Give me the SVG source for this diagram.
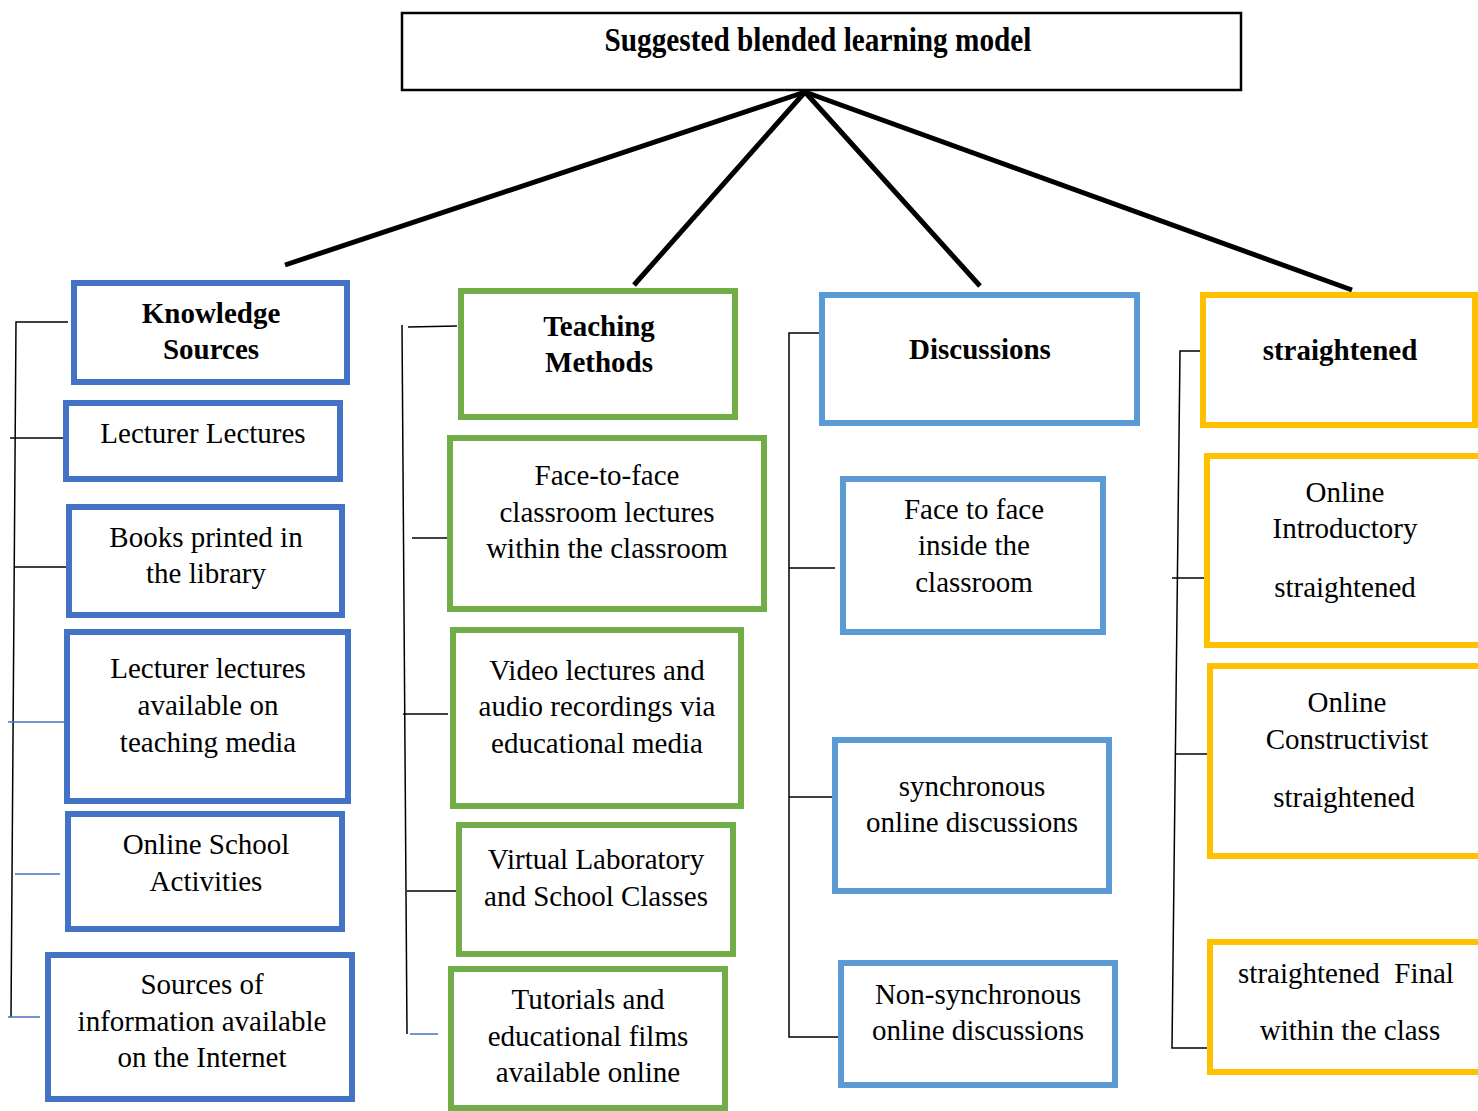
<svg xmlns="http://www.w3.org/2000/svg" width="1478" height="1111" viewBox="0 0 1478 1111">
<style>
text{font-family:"Liberation Serif","Times New Roman",serif;font-size:29px;fill:#000;text-anchor:middle}
.b{font-weight:bold}
.box{fill:#fff;stroke-width:6}
.k{stroke:#4472C4}
.g{stroke:#70AD47}
.d{stroke:#5B9BD5}
.y{stroke:#FFC000}
.main{stroke:#000;stroke-width:5;fill:none}
.br{stroke:#000;stroke-width:1.5;fill:none}
.bl{stroke:#4472C4;stroke-width:1.5;fill:none}
</style>
<rect width="1478" height="1111" fill="#fff"/>
<g id="connectors">
<line class="main" x1="805" y1="92" x2="285" y2="265"/>
<line class="main" x1="805" y1="92" x2="634" y2="285"/>
<line class="main" x1="805" y1="92" x2="980" y2="286"/>
<line class="main" x1="805" y1="92" x2="1352" y2="290"/>
<polyline class="br" points="68,322 16,322 11,1017"/>
<line class="br" x1="10" y1="438" x2="66" y2="438"/>
<line class="br" x1="14" y1="567" x2="66" y2="567"/>
<line class="bl" x1="8" y1="722" x2="64" y2="722"/>
<line class="bl" x1="15" y1="874" x2="60" y2="874"/>
<line class="bl" x1="8" y1="1017" x2="40" y2="1017"/>
<polyline class="br" points="457,326 408,327"/>
<line class="br" x1="402" y1="325" x2="407" y2="1034"/>
<line class="br" x1="412" y1="538" x2="447" y2="538"/>
<line class="br" x1="403" y1="714" x2="448" y2="714"/>
<line class="br" x1="407" y1="891" x2="458" y2="891"/>
<line class="bl" x1="410" y1="1034" x2="438" y2="1034"/>
<line class="br" x1="474" y1="328" x2="474" y2="333"/>
<polyline class="br" points="822,333 789,333 789,1037 840,1037"/>
<line class="br" x1="789" y1="568" x2="835" y2="568"/>
<line class="br" x1="789" y1="797" x2="835" y2="797"/>
<polyline class="br" points="1206,351 1180,351 1172,1048 1207,1048"/>
<line class="br" x1="1172" y1="578" x2="1210" y2="578"/>
<line class="br" x1="1175" y1="754" x2="1207" y2="754"/>
</g>
<g id="title">
<rect x="402" y="13" width="839" height="77" fill="#fff" stroke="#000" stroke-width="2.5"/>
<text class="b" x="818" y="51" textLength="427" lengthAdjust="spacingAndGlyphs" style="font-size:33px">Suggested blended learning model</text>
</g>
<g id="knowledge-sources">
<rect class="box k" x="74" y="283" width="273" height="99"/>
<text class="b" x="211" y="323">Knowledge</text>
<text class="b" x="211" y="359">Sources</text>
</g>
<g id="lecturer-lectures">
<rect class="box k" x="66" y="403" width="274" height="76"/>
<text x="203" y="443">Lecturer Lectures</text>
</g>
<g id="books-printed">
<rect class="box k" x="69" y="507" width="273" height="108"/>
<text x="206" y="547">Books printed in</text>
<text x="206" y="583">the library</text>
</g>
<g id="lecturer-lectures-media">
<rect class="box k" x="67" y="632" width="281" height="169"/>
<text x="208" y="678">Lecturer lectures</text>
<text x="208" y="715">available on</text>
<text x="208" y="752">teaching media</text>
</g>
<g id="online-school-activities">
<rect class="box k" x="68" y="814" width="274" height="115"/>
<text x="206" y="854">Online School</text>
<text x="206" y="891">Activities</text>
</g>
<g id="sources-internet">
<rect class="box k" x="48" y="955" width="304" height="144"/>
<text x="202" y="994">Sources of</text>
<text x="202" y="1031">information available</text>
<text x="202" y="1067">on the Internet</text>
</g>
<g id="teaching-methods">
<rect class="box g" x="461" y="291" width="274" height="126"/>
<text class="b" x="599" y="336">Teaching</text>
<text class="b" x="599" y="372">Methods</text>
</g>
<g id="face-to-face-lectures">
<rect class="box g" x="450" y="438" width="314" height="171"/>
<text x="607" y="485">Face-to-face</text>
<text x="607" y="522">classroom lectures</text>
<text x="607" y="558">within the classroom</text>
</g>
<g id="video-lectures">
<rect class="box g" x="453" y="630" width="288" height="176"/>
<text x="597" y="680">Video lectures and</text>
<text x="597" y="716">audio recordings via</text>
<text x="597" y="753">educational media</text>
</g>
<g id="virtual-laboratory">
<rect class="box g" x="459" y="825" width="274" height="129"/>
<text x="596" y="869">Virtual Laboratory</text>
<text x="596" y="906">and School Classes</text>
</g>
<g id="tutorials">
<rect class="box g" x="451" y="969" width="274" height="139"/>
<text x="588" y="1009">Tutorials and</text>
<text x="588" y="1046">educational films</text>
<text x="588" y="1082">available online</text>
</g>
<g id="discussions">
<rect class="box d" x="822" y="295" width="315" height="128"/>
<text class="b" x="980" y="359">Discussions</text>
</g>
<g id="face-to-face-inside">
<rect class="box d" x="843" y="479" width="260" height="153"/>
<text x="974" y="519">Face to face</text>
<text x="974" y="555">inside the</text>
<text x="974" y="592">classroom</text>
</g>
<g id="synchronous">
<rect class="box d" x="835" y="740" width="274" height="151"/>
<text x="972" y="796">synchronous</text>
<text x="972" y="832">online discussions</text>
</g>
<g id="non-synchronous">
<rect class="box d" x="841" y="963" width="274" height="122"/>
<text x="978" y="1004">Non-synchronous</text>
<text x="978" y="1040">online discussions</text>
</g>
<g id="straightened">
<rect class="box y" x="1203" y="295" width="272" height="130"/>
<text class="b" x="1340" y="360">straightened</text>
</g>
<g id="online-introductory">
<rect class="box y" x="1207" y="456" width="280" height="189"/>
<text x="1345" y="502">Online</text>
<text x="1345" y="538">Introductory</text>
<text x="1345" y="597">straightened</text>
</g>
<g id="online-constructivist">
<rect class="box y" x="1210" y="666" width="280" height="190"/>
<text x="1347" y="712">Online</text>
<text x="1347" y="749">Constructivist</text>
<text x="1344" y="807">straightened</text>
</g>
<g id="straightened-final">
<rect class="box y" x="1210" y="942" width="280" height="130"/>
<text x="1346" y="983" xml:space="preserve">straightened  Final</text>
<text x="1350" y="1040">within the class</text>
</g>
</svg>
